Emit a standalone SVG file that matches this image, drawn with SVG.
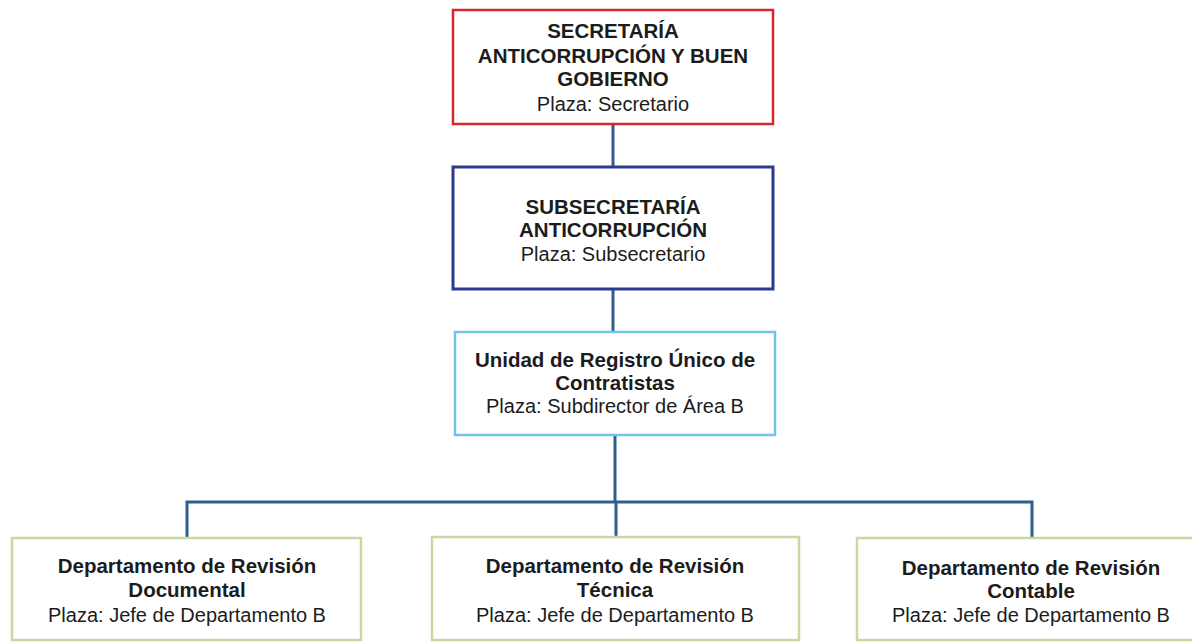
<svg xmlns="http://www.w3.org/2000/svg" width="1192" height="642" viewBox="0 0 1192 642">
<style>
  .box { fill: #ffffff; }
  .red { stroke: #d8252d; stroke-width: 2.5; }
  .navy { stroke: #2b3a8f; stroke-width: 3; }
  .sky { stroke: #72c3ec; stroke-width: 2.5; }
  .green { stroke: #c6d9a0; stroke-width: 2.5; }
  .conn { stroke: #2f5e8c; stroke-width: 3; fill: none; }
  text { font-family: "Liberation Sans", Arial, sans-serif; font-size: 20px; fill: #1c1c1c; text-anchor: middle; }
  .b { font-weight: bold; font-size: 20.5px; }
</style>
<rect width="1192" height="642" fill="#ffffff"/>
<g id="connectors">
  <line class="conn" x1="613" y1="124" x2="613" y2="167"/>
  <line class="conn" x1="613" y1="289" x2="613" y2="332"/>
  <line class="conn" x1="615" y1="435" x2="615" y2="502"/>
  <polyline class="conn" points="187,538 187,502 1032,502 1032,538"/>
  <line class="conn" x1="616" y1="502" x2="616" y2="537"/>
</g>
<g id="secretaria">
  <rect class="box red" x="453" y="10" width="320" height="114"/>
  <text class="b" x="613" y="38">SECRETARÍA</text>
  <text class="b" x="613" y="63">ANTICORRUPCIÓN Y BUEN</text>
  <text class="b" x="613" y="86">GOBIERNO</text>
  <text x="613" y="111">Plaza: Secretario</text>
</g>
<g id="subsecretaria">
  <rect class="box navy" x="453" y="167" width="320" height="122"/>
  <text class="b" x="613" y="214">SUBSECRETARÍA</text>
  <text class="b" x="613" y="237">ANTICORRUPCIÓN</text>
  <text x="613" y="261">Plaza: Subsecretario</text>
</g>
<g id="unidad">
  <rect class="box sky" x="455" y="332" width="320" height="103"/>
  <text class="b" x="615" y="367">Unidad de Registro Único de</text>
  <text class="b" x="615" y="390">Contratistas</text>
  <text x="615" y="413">Plaza: Subdirector de Área B</text>
</g>
<g id="documental">
  <rect class="box green" x="12" y="538" width="349" height="102"/>
  <text class="b" x="187" y="573">Departamento de Revisión</text>
  <text class="b" x="187" y="597">Documental</text>
  <text x="187" y="622">Plaza: Jefe de Departamento B</text>
</g>
<g id="tecnica">
  <rect class="box green" x="432" y="537" width="367" height="103"/>
  <text class="b" x="615" y="573">Departamento de Revisión</text>
  <text class="b" x="615" y="597">Técnica</text>
  <text x="615" y="622">Plaza: Jefe de Departamento B</text>
</g>
<g id="contable">
  <rect class="box green" x="857" y="538" width="360" height="102"/>
  <text class="b" x="1031" y="575">Departamento de Revisión</text>
  <text class="b" x="1031" y="598">Contable</text>
  <text x="1031" y="622">Plaza: Jefe de Departamento B</text>
</g>
</svg>
